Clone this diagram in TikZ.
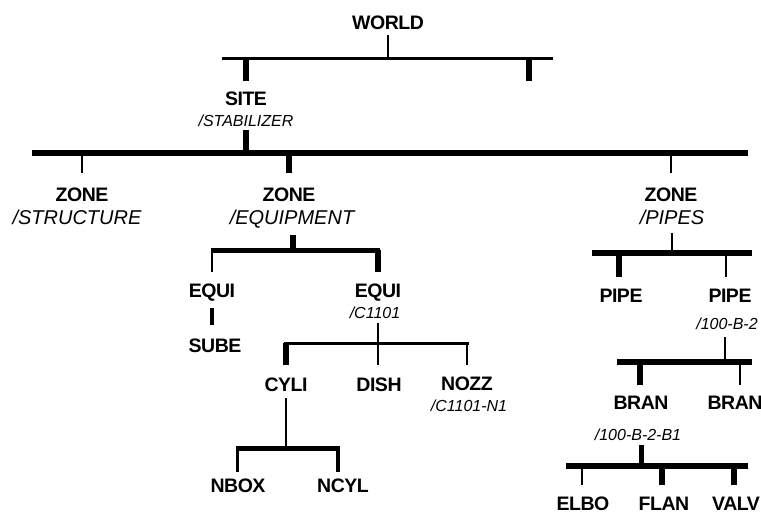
\documentclass[tikz,border=0pt]{standalone}
\usepackage{fontspec}
\setmainfont{Liberation Sans}
\newfontfamily\nmfont[LetterSpace=-2.5]{Liberation Sans}
\begin{document}
\begin{tikzpicture}[x=1pt,y=-1pt,
  nm/.style={inner sep=0pt, outer sep=0pt, font=\nmfont\fontsize{19.5}{19.5}\selectfont\bfseries, text height=13.6pt, text depth=0pt},
  lbA/.style={inner sep=0pt, outer sep=0pt, font=\fontsize{20}{20}\selectfont\itshape, text height=14.3pt, text depth=0pt},
  lbB/.style={inner sep=0pt, outer sep=0pt, font=\fontsize{16}{16}\selectfont\itshape, text height=11.5pt, text depth=0pt},
  thinln/.style={line width=2.6pt},
  thickln/.style={line width=5.5pt},
  barA/.style={line width=3pt},
  barB/.style={line width=5pt},
  barC/.style={line width=6pt}]
\path[use as bounding box] (0,0) rectangle (761,514);
\clip (0,0) rectangle (761,514);

% nodes
\node[nm] (world) at (388,23) {WORLD};
\node[nm] (site) at (246,98.5) {SITE};
\node[lbB] (sitel) at (246,121) {/STABILIZER};
\node[nm] (zs) at (82,195) {ZONE};
\node[lbA] (zsl) at (77,217) {/STRUCTURE};
\node[nm] (ze) at (289,195) {ZONE};
\node[lbA] (zel) at (292,217) {/EQUIPMENT};
\node[nm] (zp) at (671,195) {ZONE};
\node[lbA] (zpl) at (672,217) {/PIPES};
\node[nm] (eq1) at (212,291) {EQUI};
\node[nm] (eq2) at (378,291) {EQUI};
\node[lbB] (eq2l) at (375,313) {/C1101};
\node[nm] (sube) at (215,346) {SUBE};
\node[nm] (cyli) at (286,385) {CYLI};
\node[nm] (dish) at (379,385) {DISH};
\node[nm] (nozz) at (467,384) {NOZZ};
\node[lbB] (nozzl) at (469,406) {/C1101-N1};
\node[nm] (nbox) at (238,486) {NBOX};
\node[nm] (ncyl) at (343,486) {NCYL};
\node[nm] (pipe1) at (621,296) {PIPE};
\node[nm] (pipe2) at (730,296) {PIPE};
\node[lbB] (pipe2l) at (727,324) {/100-B-2};
\node[nm] (bran1) at (641,403) {BRAN};
\node[nm] (bran2) at (735,403) {BRAN};
\node[lbB] (bran1l) at (638,435) {/100-B-2-B1};
\node[nm] (elbo) at (583,504) {ELBO};
\node[nm] (flan) at (664,504) {FLAN};
\node[nm] (valv) at (736,504) {VALV};

% WORLD level
\coordinate (wb) at (388,58);
\coordinate (wl) at (222,58);
\coordinate (wr) at (553,58);
\coordinate (wx) at (529,81);
\draw[thinln, shorten <=5.2pt] (world.south) -- (wb);
\draw[barA] (wl) -- (wr);
\draw[thickln, shorten >=10.7pt] (site |- wb) -- (site.north);
\draw[thickln] (wx |- wb) -- (wx);

% SITE level
\coordinate (mb) at (246,153);
\coordinate (ml) at (32,153);
\coordinate (mr) at (748,153);
\draw[thickln, shorten <=3.2pt] (sitel.south) -- (mb);
\draw[barC] (ml) -- (mr);
\draw[thinln, shorten >=15.2pt] (zs |- mb) -- (zs.north);
\draw[thickln, shorten >=15.2pt] (ze |- mb) -- (ze.north);
\draw[thinln, shorten >=15.2pt] (zp |- mb) -- (zp.north);

% ZONE /EQUIPMENT
\coordinate (eb) at (293,250);
\coordinate (el) at (210.5,250);
\coordinate (er) at (380,250);
\draw[thickln, shorten <=10.8pt] (eb |- zel.south) -- (eb);
\draw[barB] (el) -- (er);
\draw[thinln, shorten >=12.2pt] (eq1 |- eb) -- (eq1.north);
\draw[thickln, shorten >=12.2pt] (eq2 |- eb) -- (eq2.north);
\draw[line width=4pt, shorten <=10.2pt, shorten >=14.2pt] (eq1.south) -- (eq1.south |- sube.north);

% EQUI /C1101
\coordinate (cb) at (378,343);
\coordinate (cl) at (283.5,343);
\coordinate (cr) at (469,343);
\draw[thinln, shorten <=4.2pt] (cb |- eq2l.south) -- (cb);
\draw[barA] (cl) -- (cr);
\draw[thickln, shorten >=13.2pt] (cyli |- cb) -- (cyli.north);
\draw[thinln, shorten >=13.2pt] (cb) -- (cb |- dish.north);
\draw[thinln, shorten >=12.2pt] (nozz |- cb) -- (nozz.north);

% CYLI
\coordinate (yb) at (286,448);
\coordinate (yl) at (235.5,448);
\coordinate (yr) at (339.5,448);
\coordinate (y1) at (237.5,448);
\coordinate (y2) at (338,448);
\draw[thinln, shorten <=6.2pt] (cyli.south) -- (yb);
\draw[barB] (yl) -- (yr);
\draw[line width=3.5pt, shorten >=7.2pt] (y1) -- (y1 |- nbox.north);
\draw[line width=3.5pt, shorten >=7.2pt] (y2) -- (y2 |- ncyl.north);

% ZONE /PIPES
\coordinate (pb) at (672,253);
\coordinate (pl) at (592,253);
\coordinate (pr) at (752,253);
\coordinate (p1) at (619,253);
\coordinate (p2) at (726,253);
\draw[thinln, shorten <=8.8pt] (zpl.south) -- (pb);
\draw[barC] (pl) -- (pr);
\draw[thickln, shorten >=12.2pt] (p1) -- (p1 |- pipe1.north);
\draw[thinln, shorten >=12.2pt] (p2) -- (p2 |- pipe2.north);

% PIPE /100-B-2
\coordinate (qb) at (725,362);
\coordinate (ql) at (617,362);
\coordinate (qr) at (752,362);
\coordinate (q1) at (640,362);
\coordinate (q2) at (740,362);
\draw[thinln, shorten <=7.2pt] (qb |- pipe2l.south) -- (qb);
\draw[barC] (ql) -- (qr);
\draw[thickln, shorten >=11.2pt] (q1) -- (q1 |- bran1.north);
\draw[thinln, shorten >=11.2pt] (q2) -- (q2 |- bran2.north);

% BRAN /100-B-2-B1
\coordinate (rb) at (641,466);
\coordinate (rl) at (566,466);
\coordinate (rr) at (748,466);
\coordinate (r1) at (582,466);
\coordinate (r2) at (662,466);
\coordinate (r3) at (734,466);
\draw[barB, shorten <=4.2pt] (rb |- bran1l.south) -- (rb);
\draw[barC] (rl) -- (rr);
\draw[thinln, shorten >=12.2pt] (r1) -- (r1 |- elbo.north);
\draw[thickln, shorten >=12.2pt] (r2) -- (r2 |- flan.north);
\draw[thickln, shorten >=12.2pt] (r3) -- (r3 |- valv.north);
\end{tikzpicture}
\end{document}
